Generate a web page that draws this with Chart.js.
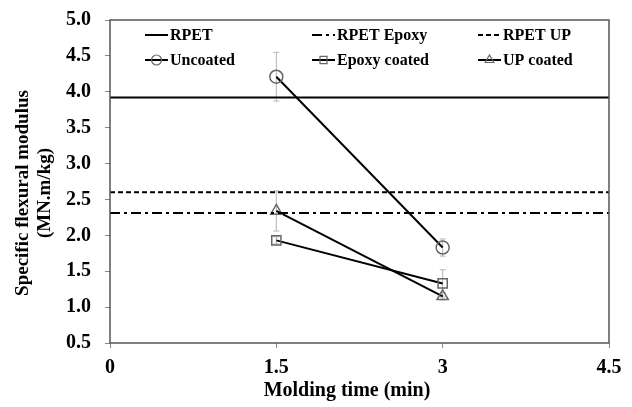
<!DOCTYPE html>
<html>
<head>
<meta charset="utf-8">
<script src="https://cdn.jsdelivr.net/npm/chart.js@4"></script>
<style>
  html, body { margin: 0; padding: 0; background: #fff; }
  #wrap { width: 632px; height: 407px; }
</style>
</head>
<body>
<div id="wrap"><canvas id="c" width="632" height="407"></canvas></div>
<script>
// Molding time (min)
const moldingTimes = [1.5, 3];
// Specific flexural modulus (MN.m/kg)
const uncoated = [4.21, 1.83];
const uncoatedErr = [0.34, 0.12];
const epoxyCoated = [1.93, 1.33];
const epoxyCoatedErr = [0.05, 0.19];
const upCoated = [2.34, 1.15];
const upCoatedErr = [0.28, 0.05];
// Reference levels for the uncoated / coated sheets
const rpetLevel = 3.92;
const rpetEpoxyLevel = 2.31;
const rpetUpLevel = 2.60;
// Axes
const xTicks = [0, 1.5, 3, 4.5];
const yMin = 0.5, yMax = 5.0, yStep = 0.5;
const xTitle = 'Molding time (min)';
const yTitle = ['Specific flexural modulus', '(MN.m/kg)'];

const FONT = '"Liberation Serif", "Times New Roman", serif';
const markerColor = '#666';

function hLine(label, y, dash) {
  return {
    label, type: 'line',
    data: [{x: xTicks[0], y}, {x: xTicks[xTicks.length - 1], y}],
    borderColor: '#000', borderWidth: 2, borderDash: dash,
    pointRadius: 0, fill: false
  };
}
function series(label, values, errs, style) {
  return {
    label, type: 'line',
    data: moldingTimes.map((t, i) => ({x: t, y: values[i], e: errs[i]})),
    borderColor: '#000', borderWidth: 2,
    pointStyle: style, pointRadius: 6.5, pointHoverRadius: 6.5,
    pointBorderColor: markerColor, pointBackgroundColor: 'rgba(0,0,0,0)',
    pointBorderWidth: 1.5, fill: false, errorBars: true
  };
}

const datasets = [
  hLine('RPET', rpetLevel, []),
  hLine('RPET Epoxy', rpetEpoxyLevel, [10, 4, 3, 4]),
  hLine('RPET UP', rpetUpLevel, [5, 3]),
  series('Uncoated', uncoated, uncoatedErr, 'circle'),
  series('Epoxy coated', epoxyCoated, epoxyCoatedErr, 'rect'),
  series('UP coated', upCoated, upCoatedErr, 'triangle')
];

// Error bars, drawn beneath the lines and markers
const errorBarPlugin = {
  id: 'errorBars',
  beforeDatasetsDraw(chart) {
    const {ctx, scales: {x, y}} = chart;
    ctx.save();
    ctx.strokeStyle = '#b5b5b5';
    ctx.lineWidth = 1;
    chart.data.datasets.forEach(ds => {
      if (!ds.errorBars) return;
      ds.data.forEach(p => {
        const px = x.getPixelForValue(p.x);
        const top = y.getPixelForValue(p.y + p.e);
        const bot = y.getPixelForValue(p.y - p.e);
        ctx.beginPath();
        ctx.moveTo(px, top); ctx.lineTo(px, bot);
        ctx.moveTo(px - 3, top); ctx.lineTo(px + 3, top);
        ctx.moveTo(px - 3, bot); ctx.lineTo(px + 3, bot);
        ctx.stroke();
      });
    });
    ctx.restore();
  }
};

// Plot frame, axis titles and an in-plot legend in three columns
const framePlugin = {
  id: 'frameLegend',
  afterDraw(chart) {
    const {ctx, chartArea: a} = chart;
    ctx.save();
    ctx.strokeStyle = '#555';
    ctx.lineWidth = 1.5;
    ctx.strokeRect(a.left, a.top, a.right - a.left, a.bottom - a.top);

    // axis titles
    ctx.fillStyle = '#000';
    ctx.textAlign = 'center';
    ctx.textBaseline = 'middle';
    ctx.font = 'bold 20px ' + FONT;
    ctx.fillText(xTitle, 347, 391);
    ctx.save();
    ctx.translate(0, 193);
    ctx.rotate(-Math.PI / 2);
    ctx.font = 'bold 19px ' + FONT;
    ctx.fillText(yTitle[0], 0, 23);
    ctx.fillText(yTitle[1], 0, 45);
    ctx.restore();

    // legend
    const cols = [145, 312, 478];
    const rows = [35, 60];
    ctx.textAlign = 'left';
    ctx.font = 'bold 16px ' + FONT;
    chart.data.datasets.forEach((ds, i) => {
      const cx = cols[i % 3], cy = rows[Math.floor(i / 3)];
      ctx.beginPath();
      ctx.setLineDash(ds.borderDash || []);
      ctx.strokeStyle = '#000';
      ctx.lineWidth = 2;
      ctx.moveTo(cx, cy); ctx.lineTo(cx + 23, cy);
      ctx.stroke();
      ctx.setLineDash([]);
      if (ds.pointStyle) {
        ctx.save();
        ctx.strokeStyle = markerColor;
        ctx.fillStyle = 'rgba(0,0,0,0)';
        ctx.lineWidth = 1.2;
        Chart.helpers.drawPoint(ctx, {pointStyle: ds.pointStyle, radius: 5, borderWidth: 1.2, rotation: 0}, cx + 11.5, cy);
        ctx.restore();
      }
      ctx.fillStyle = '#000';
      ctx.fillText(ds.label, cx + 25, cy + 1);
    });
    ctx.restore();
  }
};

new Chart(document.getElementById('c'), {
  type: 'line',
  data: { datasets },
  plugins: [errorBarPlugin, framePlugin],
  options: {
    responsive: false,
    animation: false,
    events: [],
    layout: { padding: { top: 20, right: 23, left: 0, bottom: 0 } },
    plugins: { legend: { display: false }, tooltip: { enabled: false } },
    scales: {
      x: {
        type: 'linear', min: xTicks[0], max: xTicks[xTicks.length - 1],
        afterBuildTicks(s) { s.ticks = xTicks.map(v => ({value: v})); },
        afterFit(s) { s.height = 64; s.paddingLeft = 0; s.paddingRight = 0; },
        grid: { display: true, drawOnChartArea: false, drawTicks: true, tickLength: 5, color: '#888' },
        border: { display: false },
        ticks: { color: '#000', font: { family: FONT, size: 20, weight: 'bold' }, padding: 8, maxRotation: 0,
                 callback: v => String(v) }
      },
      y: {
        type: 'linear', min: yMin, max: yMax,
        ticks: { stepSize: yStep, color: '#000', font: { family: FONT, size: 20, weight: 'bold' }, padding: 14,
                 callback: v => v.toFixed(1) },
        afterFit(s) { s.width = 110; s.paddingTop = 0; s.paddingBottom = 0; },
        grid: { display: true, drawOnChartArea: false, drawTicks: true, tickLength: 5, color: '#888' },
        border: { display: false }
      }
    }
  }
});
</script>
</body>
</html>
